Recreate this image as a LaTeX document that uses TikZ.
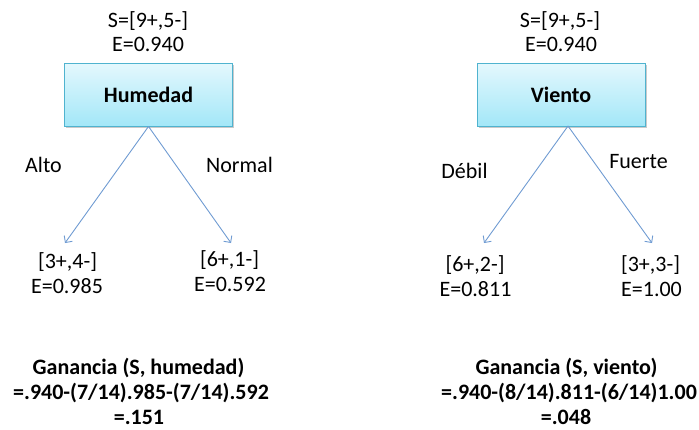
\documentclass[tikz,border=0pt]{standalone}
\usepackage{fontspec}
\setmainfont{Carlito}
\usetikzlibrary{arrows.meta,shadows}

\definecolor{boxtop}{HTML}{E4F8FD}
\definecolor{boxbottom}{HTML}{A3E7F8}
\definecolor{boxedge}{HTML}{4FB3CF}
\definecolor{branch}{HTML}{6F9BD2}

\tikzset{
  attrbox/.style={draw=boxedge, line width=0.9pt, top color=boxtop, bottom color=boxbottom,
    minimum width=168pt, minimum height=63pt, inner sep=0pt,
    font=\fontsize{22}{24}\selectfont\bfseries,
    drop shadow={shadow xshift=1.5pt, shadow yshift=-1.8pt, opacity=0.35, fill=black!60}},
  lbl/.style={anchor=base, inner sep=0pt, font=\fontsize{22}{24}\selectfont},
  gain/.style={anchor=base, inner sep=0pt, font=\fontsize{22}{24}\selectfont\bfseries},
  branchline/.style={draw=branch, line width=0.9pt, -{Straight Barb[length=5pt,width=10pt]}}
}

\begin{document}
\begin{tikzpicture}[x=1pt,y=-1pt]
  \useasboundingbox (0,0) rectangle (699,429);

  % ---- Humedad ----
  \node[lbl] (hs) at (148,27) {S=[9+,5-]};
  \node[lbl] (he) at (148,51) {E=0.940};
  \node[attrbox] (hum) at (148.5,94.5) {Humedad};

  \coordinate (halto) at (65,243);
  \coordinate (hnorm) at (231,243);
  \draw[branchline] (hum.south) -- (halto);
  \draw[branchline] (hum.south) -- (hnorm);

  \node[lbl] (la) at (43.5,172) {Alto};
  \node[lbl] (ln) at (239.5,172) {Normal};

  \node[lbl] (h1s) at (67.5,268) {[3+,4-]};
  \node[lbl] (h1e) at (67,293) {E=0.985};
  \node[lbl] (h2s) at (229.5,266) {[6+,1-]};
  \node[lbl] (h2e) at (230,291) {E=0.592};

  % ---- Viento ----
  \node[lbl] (vs) at (560,27) {S=[9+,5-]};
  \node[lbl] (ve) at (561,51) {E=0.940};
  \node[attrbox] (vie) at (561,94.5) {Viento};

  \coordinate (vapex) at (568,126);
  \coordinate (vdeb) at (484,243);
  \coordinate (vfue) at (652,243);
  \draw[branchline] (vapex) -- (vdeb);
  \draw[branchline] (vapex) -- (vfue);

  \node[lbl] (ld) at (464.5,178) {Débil};
  \node[lbl] (lf) at (638.5,168) {Fuerte};

  \node[lbl] (v1s) at (475,271) {[6+,2-]};
  \node[lbl] (v1e) at (475.5,296) {E=0.811};
  \node[lbl] (v2s) at (650.5,271) {[3+,3-]};
  \node[lbl] (v2e) at (651.5,296) {E=1.00};

  % ---- information gain ----
  \node[gain] (g1a) at (138.5,374) {Ganancia (S, humedad)};
  \node[gain] (g1b) at (141,399) {=.940-(7/14).985-(7/14).592};
  \node[gain] (g1c) at (139,424) {=.151};

  \node[gain] (g2a) at (566.5,374) {Ganancia (S, viento)};
  \node[gain] (g2b) at (569,399) {=.940-(8/14).811-(6/14)1.00};
  \node[gain] (g2c) at (566,424) {=.048};
\end{tikzpicture}
\end{document}
